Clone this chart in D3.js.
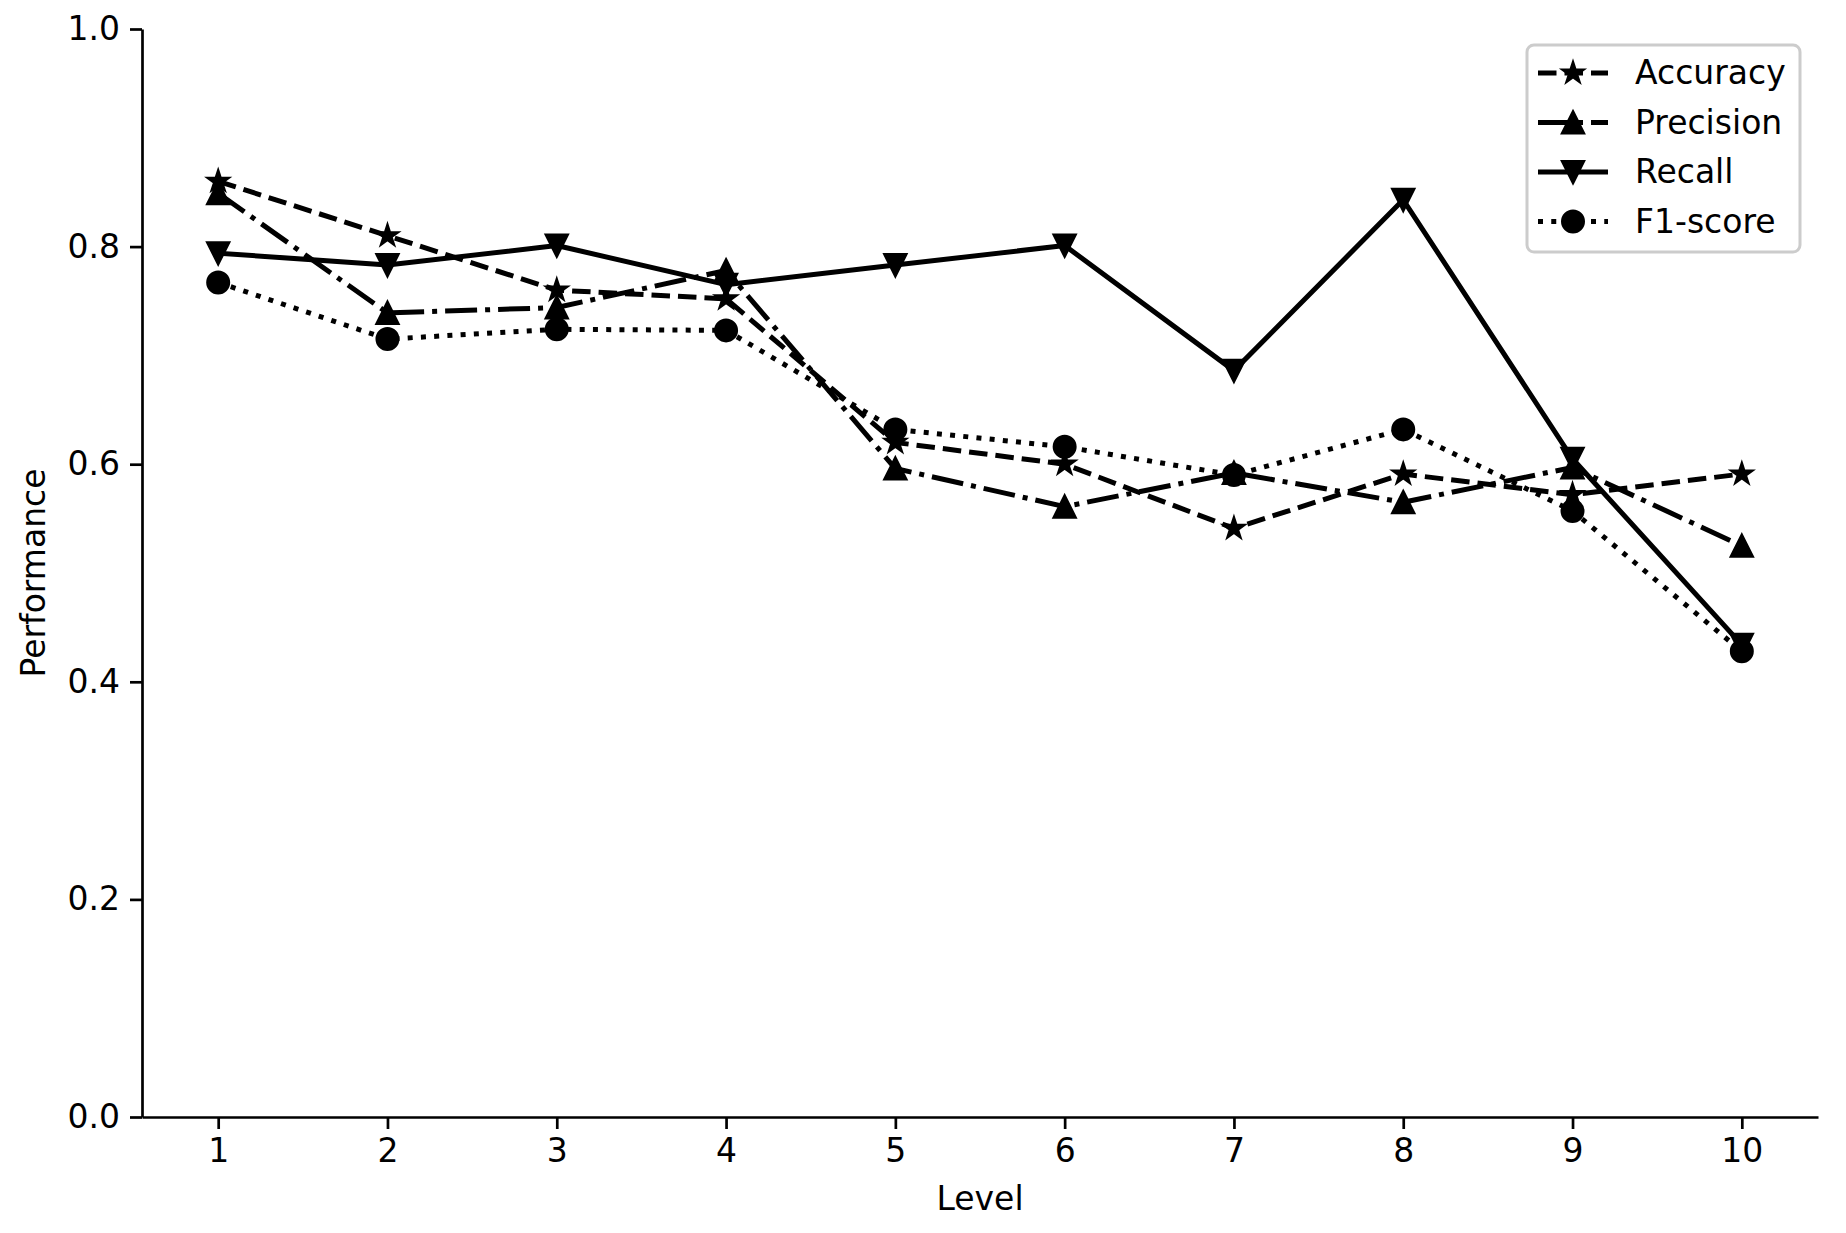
<!DOCTYPE html>
<html>
<head>
<meta charset="utf-8">
<script src="https://cdn.jsdelivr.net/npm/d3@7"></script>
<style>
  body { margin: 0; background: #fff; }
  text { font-family: "DejaVu Sans", sans-serif; fill: #000; }
</style>
</head>
<body>
<div id="chart"></div>
<script>
// values
const levels = [1, 2, 3, 4, 5, 6, 7, 8, 9, 10];
const accuracy  = [0.86, 0.81, 0.76, 0.752, 0.62, 0.60, 0.541, 0.591, 0.572, 0.591];
const precision = [0.849, 0.739, 0.744, 0.778, 0.596, 0.561, 0.592, 0.565, 0.597, 0.525];
const recall    = [0.794, 0.783, 0.801, 0.765, 0.783, 0.801, 0.686, 0.843, 0.605, 0.434];
const f1score   = [0.767, 0.715, 0.724, 0.723, 0.632, 0.616, 0.590, 0.632, 0.557, 0.428];
const seriesNames = ["Accuracy", "Precision", "Recall", "F1-score"];
const yTicks = [0, 0.2, 0.4, 0.6, 0.8, 1.0];

const WIDTH = 1846;
const HEIGHT = 1233;
const MARGINS = {left: 142, right: 28, top: 29, bottom: 116};
const FONT = 33;
const LW = 5;

// matplotlib-like marker shapes as custom d3 symbol types
const triUp = {draw(ctx, size) {
  const r = Math.sqrt(size) / 2;
  ctx.moveTo(0, -r); ctx.lineTo(r, r); ctx.lineTo(-r, r); ctx.closePath();
}};
const triDown = {draw(ctx, size) {
  const r = Math.sqrt(size) / 2;
  ctx.moveTo(0, r); ctx.lineTo(r, -r); ctx.lineTo(-r, -r); ctx.closePath();
}};
const star = {draw(ctx, size) {
  const R = Math.sqrt(size) / 2, ri = R * 0.381966;
  for (let i = 0; i < 10; i++) {
    const rr = i % 2 ? ri : R;
    const a = i * Math.PI / 5;
    const px = rr * Math.sin(a), py = -rr * Math.cos(a);
    if (i === 0) ctx.moveTo(px, py); else ctx.lineTo(px, py);
  }
  ctx.closePath();
}};
const circ = {draw(ctx, size) {
  const r = Math.sqrt(size) / 2;
  ctx.moveTo(r, 0); ctx.arc(0, 0, r, 0, 2 * Math.PI);
}};

const styles = [
  {dash: "18.5,8", shape: star, size: 20},
  {dash: "32,8,5,8", shape: triUp, size: 21},
  {dash: null, shape: triDown, size: 21},
  {dash: "5,8.25", shape: circ, size: 21}
];
const allValues = [accuracy, precision, recall, f1score];

const svg = d3.select("#chart").append("svg")
  .attr("width", WIDTH)
  .attr("height", HEIGHT);

const X_SCALE = d3.scaleLinear()
  .domain([0.55, 10.45])
  .range([MARGINS.left, WIDTH - MARGINS.right]);
const Y_SCALE = d3.scaleLinear()
  .domain([0, 1])
  .range([HEIGHT - MARGINS.bottom, MARGINS.top]);

// axes
const xAxis = svg.append("g")
  .attr("transform", "translate(0," + Y_SCALE(0) + ")")
  .call(d3.axisBottom(X_SCALE).tickValues(levels).tickFormat(d3.format("d"))
    .tickSize(12).tickSizeOuter(0).tickPadding(10));
const yAxis = svg.append("g")
  .attr("transform", "translate(" + X_SCALE(0.55) + ",0)")
  .call(d3.axisLeft(Y_SCALE).tickValues(yTicks).tickFormat(d3.format(".1f"))
    .tickSize(12).tickSizeOuter(0).tickPadding(10));
[xAxis, yAxis].forEach(g => {
  g.selectAll("path.domain").attr("stroke", "#000").attr("stroke-width", 2.7);
  g.selectAll(".tick line").attr("stroke", "#000").attr("stroke-width", 2.7);
  g.selectAll(".tick text").attr("font-size", FONT)
    .attr("font-family", "DejaVu Sans").attr("fill", "#000");
});

svg.append("text")
  .attr("x", (X_SCALE(0.55) + X_SCALE(10.45)) / 2)
  .attr("y", 1210)
  .attr("text-anchor", "middle")
  .attr("font-size", FONT)
  .text("Level");
svg.append("text")
  .attr("transform", "translate(45," + (Y_SCALE(0.5)) + ") rotate(-90)")
  .attr("text-anchor", "middle")
  .attr("font-size", FONT)
  .text("Performance");

// lines + markers, one series at a time (later ones on top)
const line = d3.line()
  .x((d, i) => X_SCALE(levels[i]))
  .y(d => Y_SCALE(d));

allValues.forEach((vals, k) => {
  const st = styles[k];
  svg.append("path")
    .datum(vals)
    .attr("d", line)
    .attr("fill", "none")
    .attr("stroke", "#000")
    .attr("stroke-width", LW)
    .attr("stroke-linejoin", "round")
    .attr("stroke-linecap", st.dash ? "butt" : "square")
    .attr("stroke-dasharray", st.dash);
  svg.selectAll(null)
    .data(vals)
    .enter()
    .append("path")
      .attr("transform", (d, i) => "translate(" + X_SCALE(levels[i]) + "," + Y_SCALE(d) + ")")
      .attr("d", d3.symbol().type(st.shape).size(st.size * st.size))
      .attr("fill", "#000")
      .attr("stroke", "#000")
      .attr("stroke-width", 3);
});

// legend
const LEG = {x: 1527, y: 45, w: 273, h: 207, row: 49.5};
const legend = svg.append("g");
legend.append("rect")
  .attr("x", LEG.x).attr("y", LEG.y)
  .attr("width", LEG.w).attr("height", LEG.h)
  .attr("rx", 7).attr("ry", 7)
  .attr("fill", "#fff").attr("fill-opacity", 0.8)
  .attr("stroke", "#cccccc").attr("stroke-width", 3);

const items = legend.selectAll("g.item")
  .data(seriesNames)
  .enter()
  .append("g")
    .attr("transform", (d, i) => "translate(" + LEG.x + "," + (LEG.y + 28 + i * LEG.row) + ")");
items.append("line")
  .attr("x1", 11).attr("x2", 81)
  .attr("y1", 0).attr("y2", 0)
  .attr("stroke", "#000")
  .attr("stroke-width", LW)
  .attr("stroke-dasharray", (d, i) => styles[i].dash);
items.append("path")
  .attr("transform", "translate(46,0)")
  .attr("d", (d, i) => d3.symbol().type(styles[i].shape).size(styles[i].size * styles[i].size)())
  .attr("fill", "#000").attr("stroke", "#000").attr("stroke-width", 3);
items.append("text")
  .attr("x", 108)
  .attr("y", 11)
  .attr("font-size", FONT)
  .text(d => d);
</script>
</body>
</html>
